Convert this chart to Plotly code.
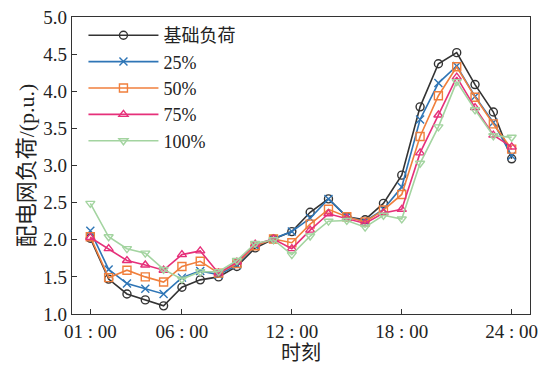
import plotly.graph_objects as go

hours = list(range(1, 25))
tick_vals = [1, 6, 12, 18, 24]
tick_text = ["01 : 00", "06 : 00", "12 : 00", "18 : 00", "24 : 00"]

base = [2.02, 1.47, 1.27, 1.19, 1.11, 1.36, 1.46, 1.50, 1.64, 1.89, 2.01, 2.11,
        2.37, 2.55, 2.31, 2.27, 2.49, 2.87, 3.79, 4.37, 4.52, 4.09, 3.72, 3.09]
p25 = [2.12, 1.60, 1.41, 1.34, 1.27, 1.49, 1.58, 1.53, 1.66, 1.92, 2.01, 2.11,
       2.29, 2.55, 2.31, 2.25, 2.41, 2.71, 3.62, 4.11, 4.34, 3.93, 3.58, 3.13]
p50 = [2.04, 1.49, 1.59, 1.50, 1.43, 1.64, 1.71, 1.55, 1.68, 1.92, 2.01, 1.96,
       2.21, 2.41, 2.31, 2.24, 2.40, 2.61, 3.39, 3.94, 4.33, 3.92, 3.56, 3.22]
p75 = [2.03, 1.88, 1.72, 1.66, 1.59, 1.80, 1.85, 1.55, 1.70, 1.94, 2.01, 1.88,
       2.13, 2.35, 2.29, 2.22, 2.36, 2.41, 3.17, 3.68, 4.19, 3.78, 3.41, 3.25]
p100 = [2.49, 2.04, 1.88, 1.82, 1.60, 1.47, 1.57, 1.57, 1.72, 1.95, 2.00, 1.80,
        2.05, 2.25, 2.26, 2.17, 2.33, 2.28, 3.03, 3.52, 4.13, 3.75, 3.40, 3.38]

series = [
    ("基础负荷", base, "#333333", "circle-open"),
    ("25%", p25, "#2E75B6", "x-thin-open"),
    ("50%", p50, "#F07F3C", "square-open"),
    ("75%", p75, "#E6307A", "triangle-up-open"),
    ("100%", p100, "#A3D4A0", "triangle-down-open"),
]

FONT = "Liberation Serif, Times New Roman, Noto Sans CJK SC, serif"

fig = go.Figure()
for name, vals, color, sym in series:
    fig.add_trace(go.Scatter(
        x=hours, y=vals, name=name, mode="lines+markers",
        line=dict(color=color, width=1.6),
        marker=dict(symbol=sym, size=8, color=color,
                    line=dict(color=color, width=1.4)),
    ))

axis_common = dict(
    showline=True, linecolor="#333333", linewidth=1.2, mirror=True,
    ticks="inside", ticklen=5, tickcolor="#333333", showgrid=False,
    zeroline=False, ticklabeloverflow="allow",
    tickfont=dict(family=FONT, size=19, color="#222222"),
)

fig.update_layout(
    width=545, height=373,
    margin=dict(l=72, r=7, t=15, b=59),
    paper_bgcolor="white", plot_bgcolor="white",
    font=dict(family=FONT, size=19, color="#222222"),
    xaxis=dict(range=[0, 25], tickmode="array", tickvals=tick_vals,
               ticktext=tick_text,
               title=dict(text="时刻", standoff=4,
                          font=dict(family=FONT, size=20)),
               **axis_common),
    yaxis=dict(range=[1.0, 5.0], dtick=0.5, tickformat=".1f",
               title=dict(text="配电网负荷/(p.u.)", standoff=2,
                          font=dict(family=FONT, size=22)),
               **axis_common),
    legend=dict(x=0.025, y=1.0, xanchor="left", yanchor="top",
                bgcolor="rgba(0,0,0,0)", itemwidth=70,
                font=dict(family=FONT, size=18), tracegroupgap=0),
    showlegend=True,
)

fig.write_html("out.html")
